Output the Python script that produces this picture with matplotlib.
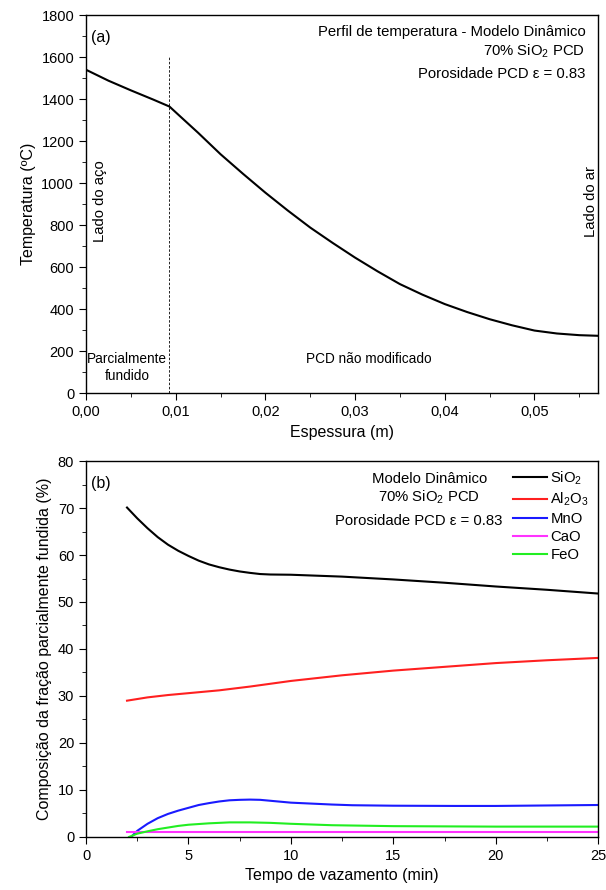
import numpy as np
import matplotlib
matplotlib.use("Agg")
import matplotlib.pyplot as plt
from matplotlib.ticker import MultipleLocator, FuncFormatter

plt.rcParams["font.family"] = ["Liberation Sans", "DejaVu Sans"]
plt.rcParams["mathtext.fontset"] = "custom"
plt.rcParams["mathtext.rm"] = "Liberation Sans"
plt.rcParams["mathtext.it"] = "Liberation Sans:italic"

# --- (a) temperature profile across the thickness ---
esp = [0.0, 0.0025, 0.005, 0.0075, 0.0093, 0.0105, 0.0125, 0.015, 0.0175, 0.02,
       0.0225, 0.025, 0.0275, 0.03, 0.0325, 0.035, 0.0375, 0.04, 0.0425, 0.045,
       0.0475, 0.05, 0.0525, 0.055, 0.0571]
temp = [1540, 1488, 1442, 1398, 1365, 1318, 1240, 1138, 1045, 955,
        870, 789, 716, 646, 581, 520, 470, 425, 387, 353,
        324, 299, 285, 277, 274]
x_interface = 0.0093

# --- (b) composition of the partially molten fraction ---
t_sio2 = [2, 2.5, 3, 3.5, 4, 4.5, 5, 5.5, 6, 6.5, 7, 7.5, 8, 8.5, 9, 10,
          12.5, 15, 17.5, 20, 22.5, 25]
sio2 = [70.1, 67.8, 65.7, 63.8, 62.2, 60.9, 59.8, 58.8, 58.0, 57.4, 56.9, 56.5, 56.2, 55.95, 55.85, 55.8,
        55.4, 54.8, 54.1, 53.3, 52.6, 51.8]
t_al = [2, 3, 4, 5, 6.5, 8, 10, 12.5, 15, 17.5, 20, 22.5, 25]
al2o3 = [29.0, 29.7, 30.2, 30.6, 31.2, 32.0, 33.2, 34.4, 35.4, 36.2, 37.0, 37.6, 38.1]
t_mno = [2.2, 2.5, 3, 3.5, 4, 4.5, 5, 5.5, 6, 6.5, 7, 7.5, 8, 8.5, 9, 9.5, 10,
         11, 12, 13, 15, 18, 20, 22.5, 25]
mno = [0.0, 1.3, 2.8, 4.0, 4.9, 5.6, 6.2, 6.8, 7.2, 7.55, 7.8, 7.9, 7.95, 7.9, 7.7, 7.5, 7.3,
       7.1, 6.9, 6.75, 6.65, 6.6, 6.6, 6.7, 6.8]
t_cao = [2, 25]
cao = [1.0, 1.0]
t_feo = [2.1, 2.5, 3, 3.5, 4, 4.5, 5, 5.5, 6, 6.5, 7, 7.5, 8, 9, 10, 12, 15, 20, 25]
feo = [0.0, 0.7, 1.2, 1.65, 2.0, 2.35, 2.6, 2.75, 2.9, 3.0, 3.1, 3.1, 3.1, 3.0, 2.8, 2.5, 2.3, 2.2, 2.2]

fig = plt.figure(figsize=(6.06, 8.9), dpi=100)
ax1 = fig.add_axes([0.142, 0.558, 0.845, 0.425])
ax2 = fig.add_axes([0.142, 0.0596, 0.845, 0.4224])

FS = 10.7

def style(ax):
    for s in ax.spines.values():
        s.set_linewidth(1.0)
    ax.tick_params(which="both", direction="out", top=False, right=False, labelsize=10.5)
    ax.tick_params(which="major", length=5)
    ax.tick_params(which="minor", length=3)

# panel a
ax1.plot(esp, temp, color="black", lw=1.5)
ax1.plot([x_interface, x_interface], [0, 1600], color="black", lw=0.6, ls=(0, (3, 2)))
ax1.set_xlim(0, 0.0571)
ax1.set_ylim(0, 1800)
ax1.xaxis.set_major_locator(MultipleLocator(0.01))
ax1.xaxis.set_minor_locator(MultipleLocator(0.005))
ax1.yaxis.set_major_locator(MultipleLocator(200))
ax1.yaxis.set_minor_locator(MultipleLocator(100))
ax1.xaxis.set_major_formatter(FuncFormatter(lambda v, p: f"{v:.2f}".replace(".", ",")))
style(ax1)
ax1.set_xlabel("Espessura (m)", fontsize=11.5)
ax1.set_ylabel("Temperatura (ºC)", fontsize=11.5)
ax1.text(0.009, 0.96, "(a)", transform=ax1.transAxes, fontsize=11.5, va="top")
ax1.text(0.975, 0.944, "Perfil de temperatura - Modelo Dinâmico", transform=ax1.transAxes,
         fontsize=FS, ha="right", va="baseline")
ax1.text(0.975, 0.894, "70% SiO$_2$ PCD", transform=ax1.transAxes, fontsize=FS, ha="right", va="baseline")
ax1.text(0.975, 0.835, "Porosidade PCD ε = 0.83", transform=ax1.transAxes, fontsize=FS,
         ha="right", va="baseline")
ax1.text(0.027, 0.508, "Lado do aço", transform=ax1.transAxes, fontsize=FS, rotation=90,
         ha="center", va="center")
ax1.text(0.986, 0.508, "Lado do ar", transform=ax1.transAxes, fontsize=FS, rotation=90,
         ha="center", va="center")
ax1.text(0.0046, 124, "Parcialmente\nfundido", fontsize=9.8, ha="center", va="center", linespacing=1.3)
ax1.text(0.0315, 162, "PCD não modificado", fontsize=9.8, ha="center", va="center")

# panel b
ax2.plot(t_sio2, sio2, color="black", lw=1.5, label="SiO$_2$")
ax2.plot(t_al, al2o3, color="#ff2020", lw=1.5, label="Al$_2$O$_3$")
ax2.plot(t_mno, mno, color="#1a1aff", lw=1.5, label="MnO")
ax2.plot(t_cao, cao, color="#ff33ff", lw=1.5, label="CaO")
ax2.plot(t_feo, feo, color="#22ee22", lw=1.5, label="FeO")
ax2.set_xlim(0, 25)
ax2.set_ylim(0, 80)
ax2.xaxis.set_major_locator(MultipleLocator(5))
ax2.xaxis.set_minor_locator(MultipleLocator(2.5))
ax2.yaxis.set_major_locator(MultipleLocator(10))
ax2.yaxis.set_minor_locator(MultipleLocator(5))
style(ax2)
ax2.set_xlabel("Tempo de vazamento (min)", fontsize=11.5)
ax2.set_ylabel("Composição da fração parcialmente fundida (%)", fontsize=11.5)
ax2.text(0.009, 0.96, "(b)", transform=ax2.transAxes, fontsize=11.5, va="top")
ax2.text(0.671, 0.9415, "Modelo Dinâmico", transform=ax2.transAxes, fontsize=FS, ha="center", va="baseline")
ax2.text(0.669, 0.893, "70% SiO$_2$ PCD", transform=ax2.transAxes, fontsize=FS, ha="center", va="baseline")
ax2.text(0.8125, 0.83, "Porosidade PCD ε = 0.83", transform=ax2.transAxes, fontsize=FS,
         ha="right", va="baseline")
ax2.legend(loc="upper left", bbox_to_anchor=(0.834, 0.977), frameon=False, fontsize=FS,
           handlelength=2.3, handletextpad=0.2, labelspacing=0.26, borderpad=0, borderaxespad=0)

fig.savefig("out.png", dpi=100)
